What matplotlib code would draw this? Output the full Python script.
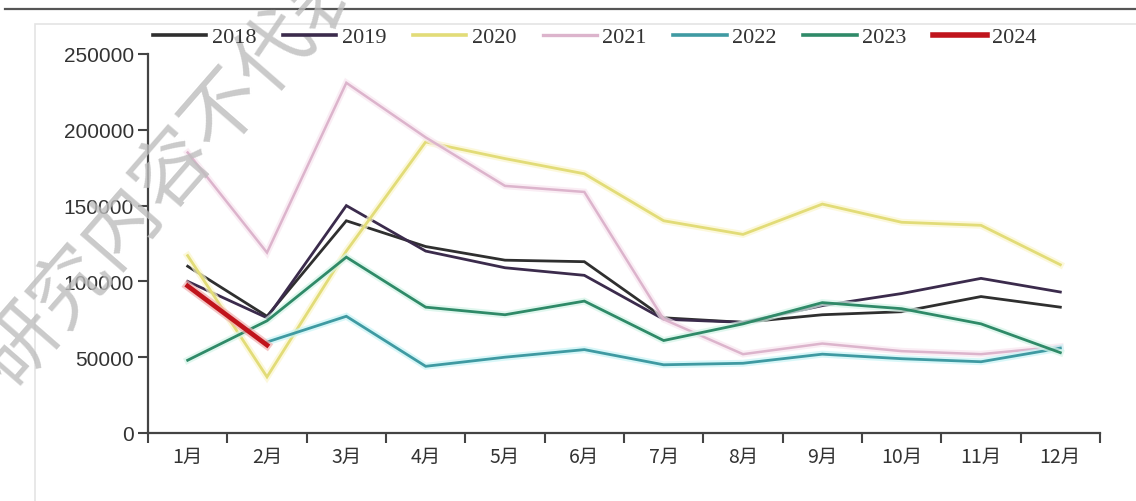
import matplotlib.pyplot as plt
import matplotlib.patheffects as pe
from matplotlib.patches import Rectangle
from matplotlib.lines import Line2D
import numpy as np

plt.rcParams['font.family'] = ['Noto Sans CJK SC', 'DejaVu Sans']

months = ['1月', '2月', '3月', '4月', '5月', '6月', '7月', '8月', '9月', '10月', '11月', '12月']
years = ['2018', '2019', '2020', '2021', '2022', '2023', '2024']

v2018 = [110000, 77000, 140000, 123000, 114000, 113000, 76000, 73000, 78000, 80000, 90000, 83000]
v2019 = [100000, 76000, 150000, 120000, 109000, 104000, 75000, 73000, 84000, 92000, 102000, 93000]
v2020 = [117000, 37000, 120000, 192000, 181000, 171000, 140000, 131000, 151000, 139000, 137000, 111000]
v2021 = [185000, 119000, 231000, 195000, 163000, 159000, 75000, 52000, 59000, 54000, 52000, 57000]
v2022 = [np.nan, 60000, 77000, 44000, 50000, 55000, 45000, 46000, 52000, 49000, 47000, 56000]
v2023 = [48000, 74000, 116000, 83000, 78000, 87000, 61000, 72000, 86000, 82000, 72000, 53000]
v2024 = [97000, 58000]

series = [v2018, v2019, v2020, v2021, v2022, v2023, v2024]
colors = ['#2f2f2f', '#3b2b4c', '#e2dc78', '#dcb4cc', '#3f9aa2', '#2f8a68', '#c0141c']
glows = [None, None, '#fbf6cc', '#f8e6f0', '#c8f4f6', '#d4f4e8', '#f0b0b0']
widths = [2.0, 2.0, 2.0, 1.8, 2.0, 2.0, 3.4]

fig = plt.figure(figsize=(11.36, 5.02), dpi=100)

# page rule and light frame
fig.add_artist(Line2D([5 / 1136, 1.0], [1 - 10 / 502, 1 - 10 / 502], color='#555555', lw=1.6))
fig.add_artist(Rectangle((35 / 1136, -0.01), 1.2, 1 - 25 / 502 + 0.01, fill=False,
                         edgecolor='#e4e4e4', lw=1.2))

ax = fig.add_axes([148 / 1136, 1 - 434 / 502, (1100 - 148) / 1136, (434 - 55) / 502])
x = np.arange(1, 13)
handles = []
for name, vals, c, g, w in zip(years, series, colors, glows, widths):
    effects = [pe.Stroke(linewidth=w + 3, foreground=g, alpha=0.7), pe.Normal()] if g else None
    ln, = ax.plot(x[:len(vals)], vals, color=c, lw=w, path_effects=effects, solid_joinstyle='miter')
    handles.append(Line2D([], [], color=c, lw=w + 0.6, label=name))

ax.set_xlim(0.5, 12.5)
ax.set_ylim(0, 250000)
ax.set_yticks([0, 50000, 100000, 150000, 200000, 250000])
ax.set_yticklabels(['0', '50000', '100000', '150000', '200000', '250000'], fontsize=15,
                   family='Liberation Sans', color='#333333')
ax.set_xticks(np.arange(0.5, 12.6, 1))
ax.set_xticklabels([])
ax.set_xticks(x, minor=True)
ax.set_xticklabels(months, minor=True, fontsize=14, color='#333333')
ax.tick_params(axis='x', which='minor', length=0, pad=9)
ax.tick_params(axis='x', which='major', length=7, width=1.5, color='#444444')
ax.tick_params(axis='y', length=7, width=1.5, color='#444444', pad=3)
for s in ['top', 'right']:
    ax.spines[s].set_visible(False)
for s in ['left', 'bottom']:
    ax.spines[s].set_color('#444444')
    ax.spines[s].set_linewidth(1.6)

leg = fig.legend(handles=handles, loc='center left', bbox_to_anchor=(133 / 1136, 1 - 38 / 502),
                 ncol=7, frameon=False, handlelength=2.4, handletextpad=0.25, columnspacing=1.2,
                 prop={'family': 'Liberation Serif', 'size': 16})
for t in leg.get_texts():
    t.set_color('#333333')

# watermark
fig.text(26 / 1136, 1 - 402 / 502, '研究内容不代表', fontsize=56, color='#bdbdbd', alpha=0.8,
         rotation=49, rotation_mode='anchor', ha='left', va='bottom', fontweight='light')

fig.savefig('out.png', dpi=100)
